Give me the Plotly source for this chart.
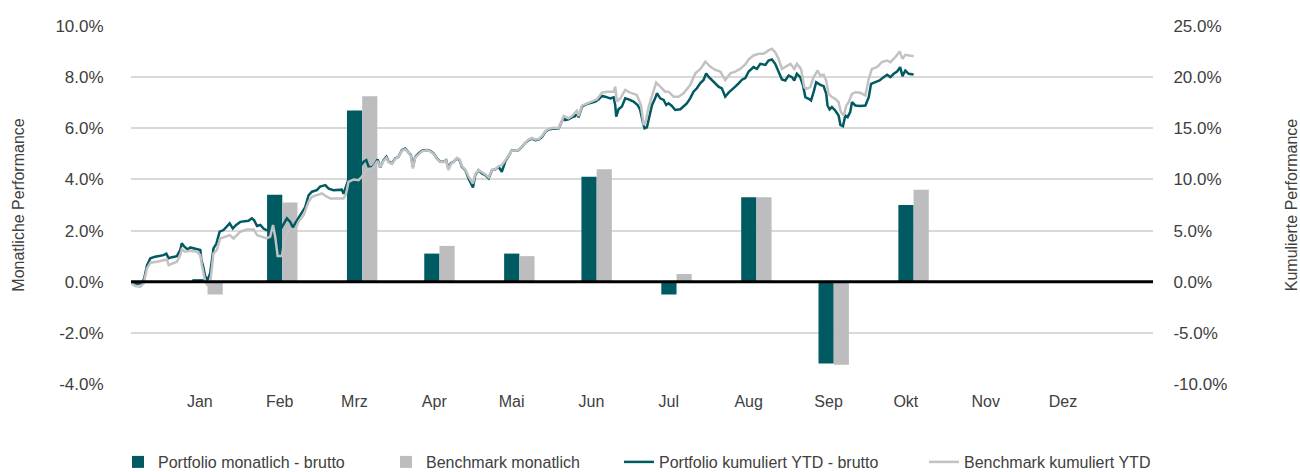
import pandas as pd
import plotly.graph_objects as go

# ---------------- data ----------------
month_labels = ["Jan", "Feb", "Mrz", "Apr", "Mai", "Jun", "Jul", "Aug", "Sep", "Okt", "Nov", "Dez"]
tick_dates = ["2024-01-28", "2024-02-28", "2024-03-28", "2024-04-28", "2024-05-28", "2024-06-28",
              "2024-07-28", "2024-08-28", "2024-09-28", "2024-10-28", "2024-11-28", "2024-12-28"]
left_ticks = [-4, -2, 0, 2, 4, 6, 8, 10]
right_ticks = [-10, -5, 0, 5, 10, 15, 20, 25]

bar_dates = ["2024-01-31", "2024-02-29", "2024-03-31", "2024-04-30", "2024-05-31",
             "2024-06-30", "2024-07-31", "2024-08-31", "2024-09-30", "2024-10-31"]
port_monthly = [0.1, 3.4, 6.7, 1.1, 1.1, 4.1, -0.5, 3.3, -3.2, 3.0]
bench_monthly = [-0.5, 3.1, 7.25, 1.4, 1.0, 4.4, 0.3, 3.3, -3.25, 3.6]

# cumulative YTD (days since 1 Jan 2024, value in %)
port_cum_day = [0.0, 0.6, 2.6, 4.5, 5.4, 6.5, 7.8, 9.7, 11.6, 12.9, 14.0, 14.9, 16.2, 18.1, 19.4, 20.0, 21.1,
                22.3, 23.3, 24.6, 25.9, 27.2, 27.6, 28.2, 29.1, 30.0, 31.0, 32.3, 33.4, 34.7, 36.2, 37.8, 38.6,
                39.8, 41.1, 42.7, 44.6, 45.9, 47.2, 48.1, 49.2, 50.5, 51.7, 52.8, 55.0, 57.0, 58.5, 59.5, 60.8,
                62.1, 63.1, 64.0, 65.3, 66.6, 67.9, 69.2, 70.5, 72.4, 73.7, 75.7, 77.0, 78.9, 80.9, 82.1, 82.8,
                84.1, 84.7, 87.0, 89.0, 90.6, 91.6, 92.5, 93.8, 95.1, 96.0, 97.0, 98.3, 99.4, 100.3, 101.6,
                102.8, 104.1, 105.4, 106.7, 108.0, 108.9, 109.7, 110.6, 111.9, 113.2, 115.1, 116.4, 117.7,
                119.0, 120.3, 121.6, 122.6, 123.5, 124.4, 125.5, 126.8, 127.8, 128.7, 130.0, 131.3, 133.0,
                133.9, 135.2, 136.5, 137.8, 139.1, 140.4, 141.7, 143.0, 144.2, 145.5, 146.8, 148.1, 149.4,
                150.7, 152.0, 153.3, 154.6, 155.9, 157.2, 158.5, 159.8, 161.1, 162.4, 164.3, 166.2, 167.5,
                168.2, 168.8, 170.1, 171.4, 172.7, 173.3, 174.0, 175.3, 177.2, 179.2, 180.5, 181.8, 183.1,
                184.3, 186.3, 187.6, 188.2, 188.6, 189.5, 190.8, 192.1, 193.4, 195.3, 196.9, 197.9, 199.0,
                199.6, 200.5, 201.4, 202.5, 203.7, 204.4, 205.7, 207.0, 208.0, 208.9, 210.2, 211.5, 213.5,
                214.7, 216.0, 217.3, 218.6, 219.9, 221.2, 222.5, 223.5, 224.4, 225.7, 227.0, 228.3, 229.6,
                230.9, 232.2, 233.5, 234.8, 236.1, 237.4, 238.7, 240.0, 241.9, 243.2, 244.5, 246.5, 247.7,
                249.0, 250.3, 251.6, 252.9, 254.2, 255.5, 256.8, 257.7, 258.7, 260.0, 261.1, 262.0, 263.3,
                264.2, 265.2, 266.2, 267.8, 269.1, 270.1, 270.6, 271.4, 272.3, 273.6, 274.9, 275.6, 276.6,
                277.5, 278.4, 279.4, 280.1, 281.4, 283.3, 285.3, 286.6, 287.5, 289.1, 290.8, 292.4, 293.7,
                295.0, 296.3, 297.6, 298.8, 299.7, 300.8, 302.1, 304.0]
port_cum = [-0.05, -0.1, -0.2, -0.15, 0.3, 1.6, 2.3, 2.45, 2.55, 2.6, 2.75, 2.3, 2.4, 2.5, 3.1, 3.75, 3.4,
            3.15, 3.35, 3.25, 3.15, 3.1, 2.1, 1.6, 0.5, 0.2, 0.8, 3.25, 3.7, 4.9, 5.05, 5.45, 5.7,
            5.2, 5.55, 5.85, 5.9, 5.95, 6.2, 6.0, 5.45, 5.55, 5.2, 5.05, 5.0, 4.6, 5.2, 5.65, 6.2,
            5.85, 5.3, 5.7, 6.2, 6.7, 7.3, 8.45, 8.8, 8.95, 9.3, 9.45, 9.1, 8.95, 8.95, 9.0, 8.6,
            9.6, 10.0, 10.8, 11.2, 11.73, 11.89, 11.24, 11.17, 11.56, 11.95, 11.17, 11.89, 12.21, 11.73, 11.56,
            12.05, 12.21, 12.87, 13.03, 12.7, 12.38, 11.24, 12.21, 12.54, 12.8, 12.87, 12.8, 12.54,
            12.05, 11.73, 11.73, 11.89, 11.07, 11.56, 11.73, 12.05, 11.89, 11.24, 10.91, 10.1, 9.22,
            10.42, 10.91, 10.59, 10.42, 10.1, 10.91, 10.98, 11.24, 10.75, 11.73, 12.28, 12.87, 12.8,
            12.87, 13.19, 13.58, 13.84, 14.0, 13.84, 13.9, 14.17, 14.66, 14.89, 14.98, 14.95, 15.65,
            16.07, 15.81, 15.88, 16.07, 16.2, 16.63, 16.07, 17.12, 17.38, 17.51, 17.61, 17.83, 18.16,
            18.09, 17.93, 18.03, 17.28, 16.14, 16.86, 17.12, 17.93, 17.83, 17.61, 17.28, 16.79, 15.49,
            15.0, 15.1, 16.14, 17.28, 17.93, 18.42, 17.93, 17.77, 17.28, 17.44, 17.18, 16.79, 16.86,
            17.18, 17.44, 17.93, 18.58, 18.91, 19.4, 19.72, 20.37, 20.05, 19.72, 19.4, 19.07, 18.91,
            18.09, 18.49, 18.75, 19.07, 19.4, 19.75, 19.9, 20.55, 20.98, 20.81, 21.3, 21.2, 21.63,
            21.73, 21.3, 20.49, 19.77, 19.67, 20.16, 20.0, 19.67, 20.33, 20.0, 19.19, 18.05, 17.88,
            17.72, 18.53, 19.51, 19.25, 19.12, 18.37, 17.23, 16.84, 17.07, 16.74, 16.25, 15.34, 15.21,
            16.25, 16.09, 16.58, 17.56, 17.23, 17.17, 17.23, 18.05, 19.35, 19.51, 19.67, 20.0, 20.23,
            20.0, 20.33, 20.55, 20.98, 20.1, 20.65, 20.33, 20.26]

bench_cum_day = [0.0, 0.6, 1.9, 3.9, 5.2, 6.5, 7.8, 10.3, 12.9, 14.2, 14.9, 16.2, 18.1, 19.4, 20.0, 21.3,
                 23.3, 25.9, 27.2, 27.8, 29.1, 30.0, 31.0, 32.3, 33.6, 34.9, 36.9, 38.6, 40.1, 42.7, 45.3,
                 47.9, 49.2, 51.1, 53.0, 54.3, 55.4, 56.3, 57.2, 58.9, 59.8, 62.1, 64.0, 65.3, 67.3, 69.2,
                 70.5, 72.4, 74.4, 76.3, 77.6, 80.2, 82.8, 83.8, 84.7, 86.7, 88.6, 89.9, 92.0, 94.0, 96.0,
                 97.0, 98.3, 99.4, 100.3, 101.6, 102.8, 104.1, 105.4, 106.7, 108.0, 108.9, 109.7, 110.6,
                 111.9, 113.2, 115.1, 116.4, 117.7, 119.0, 120.3, 121.6, 122.6, 123.5, 124.4, 125.5, 126.8,
                 127.8, 128.7, 130.0, 131.3, 133.0, 133.9, 135.2, 136.5, 137.8, 139.1, 140.4, 141.7, 143.0,
                 144.2, 145.5, 146.8, 148.1, 149.4, 150.7, 152.0, 153.3, 154.6, 155.9, 157.2, 158.5, 159.8,
                 161.1, 162.4, 164.3, 166.2, 167.5, 168.2, 170.1, 171.4, 173.3, 174.0, 175.3, 177.2, 179.2,
                 181.1, 183.1, 185.0, 187.6, 188.2, 188.9, 190.2, 192.1, 194.0, 196.6, 198.2, 199.2, 199.9,
                 201.2, 203.1, 204.1, 205.7, 207.6, 208.9, 210.9, 212.8, 214.7, 217.3, 219.3, 221.2, 223.2,
                 225.1, 227.0, 229.0, 230.9, 232.9, 234.8, 236.7, 238.7, 240.0, 241.9, 243.9, 245.8, 247.7,
                 249.0, 250.3, 251.6, 252.9, 254.2, 256.2, 257.7, 258.7, 260.3, 261.6, 262.6, 263.9, 265.2,
                 266.8, 267.8, 269.1, 270.1, 271.0, 272.3, 273.6, 274.9, 275.8, 276.9, 277.9, 278.8, 280.1,
                 281.4, 283.3, 285.3, 286.6, 287.8, 289.8, 291.7, 293.7, 295.0, 296.9, 298.6, 299.7, 300.8,
                 302.1, 304.0]
bench_cum = [-0.05, -0.16, -0.42, -0.49, -0.16, 1.3, 1.86, 1.95, 2.12, 2.18, 1.63, 1.79, 1.95, 2.61, 3.16, 2.93,
             3.03, 2.93, 2.61, 1.63, 0.0, -0.33, -0.16, 2.77, 3.09, 4.23, 4.4, 4.56, 4.23, 4.89, 5.11,
             5.11, 4.56, 4.4, 4.23, 4.4, 5.54, 4.33, 2.51, 2.51, 4.07, 5.21, 5.05, 5.86, 6.51, 7.82,
             8.31, 8.47, 8.63, 8.31, 8.14, 8.14, 8.14, 8.63, 9.77, 10.0, 9.93, 10.26, 11.0, 11.1, 11.8,
             11.2, 11.8, 12.1, 11.7, 11.5, 12.0, 12.2, 12.8, 12.95, 12.65, 12.3, 11.07, 12.15,
             12.5, 12.75, 12.85, 12.75, 12.5, 12.0, 11.7, 11.7, 11.85, 10.91, 11.5, 11.7, 12.1,
             11.95, 11.3, 10.95, 10.3, 9.6, 10.5, 10.95, 10.7, 10.5, 10.2, 10.95, 11.0, 11.3,
             11.4, 11.8, 12.3, 12.85, 12.8, 12.9, 13.2, 13.6, 13.9, 14.05, 13.9, 13.95, 14.25,
             14.7, 14.95, 15.05, 15.0, 15.72, 16.2, 15.98, 16.2, 16.73, 16.2, 17.21, 17.44, 17.61,
             17.83, 18.49, 18.58, 18.58, 19.07, 17.61, 17.93, 18.75, 18.49, 18.26, 17.28, 15.33, 15.49,
             17.12, 18.81, 19.46, 19.07, 18.58, 18.58, 18.09, 18.09, 18.42, 19.23, 20.37, 20.77, 21.51,
             21.03, 20.7, 20.54, 19.72, 20.37, 20.54, 20.8, 21.25, 21.75, 22.12, 22.28, 22.28, 22.61,
             22.77, 22.44, 21.79, 20.81, 20.98, 21.3, 20.81, 21.3, 20.81, 19.02, 18.86, 19.02, 20.0,
             20.65, 20.16, 20.23, 19.67, 18.37, 18.05, 17.88, 17.56, 16.58, 16.25, 17.23, 17.56, 18.37,
             18.53, 18.47, 18.21, 19.84, 20.81, 20.98, 21.47, 21.63, 21.47, 21.95, 22.51, 21.79, 22.18,
             22.12, 22.05]

# ---------------- styling ----------------
TEAL = "#005a62"
GRAY_BAR = "#bdbdbf"
GRAY_LINE = "#c2c2c4"
FONT = "Liberation Sans, Arial, sans-serif"
TXT = "#404040"

year_start = pd.Timestamp("2024-01-01")
port_x = year_start + pd.to_timedelta(port_cum_day, unit="D")
bench_x = year_start + pd.to_timedelta(bench_cum_day, unit="D")

bar_w = 5.9 * 86400000  # ms


def pct_label(v):
    return f"{v:.1f}%"


fig = go.Figure()
fig.add_trace(go.Bar(x=bar_dates, y=port_monthly, name="Portfolio monatlich - brutto",
                     marker=dict(color=TEAL, line=dict(width=0)), width=bar_w, offset=-bar_w,
                     legend="legend"))
fig.add_trace(go.Bar(x=bar_dates, y=bench_monthly, name="Benchmark monatlich",
                     marker=dict(color=GRAY_BAR, line=dict(width=0)), width=bar_w, offset=0,
                     legend="legend2"))
fig.add_trace(go.Scatter(x=port_x, y=port_cum, name="Portfolio kumuliert YTD - brutto", mode="lines",
                         line=dict(color=TEAL, width=2.5), yaxis="y2", legend="legend3"))
fig.add_trace(go.Scatter(x=bench_x, y=bench_cum, name="Benchmark kumuliert YTD", mode="lines",
                         line=dict(color=GRAY_LINE, width=2.5), yaxis="y2", legend="legend4"))

fig.add_shape(type="line", xref="paper", x0=0, x1=1, yref="y", y0=0, y1=0,
              line=dict(color="black", width=3), layer="above")

legend_common = dict(orientation="h", xanchor="left", yanchor="middle", xref="container",
                     yref="container", y=1 - 462 / 472, font=dict(size=16, color=TXT),
                     bgcolor="rgba(0,0,0,0)", itemwidth=30)
legend_text_x = [160, 428, 661, 966]

fig.update_layout(
    width=1300, height=472,
    margin=dict(l=131, r=147, t=26, b=88, autoexpand=False),
    paper_bgcolor="white", plot_bgcolor="white",
    barmode="overlay",
    font=dict(family=FONT, size=16, color=TXT),
    showlegend=True,
    legend=dict(legend_common, x=(legend_text_x[0] - 42) / 1300),
    legend2=dict(legend_common, x=(legend_text_x[1] - 42) / 1300),
    legend3=dict(legend_common, x=(legend_text_x[2] - 42) / 1300),
    legend4=dict(legend_common, x=(legend_text_x[3] - 42) / 1300),
    xaxis=dict(type="date", range=["2024-01-01 07:00", "2025-01-31 22:00"],
               tickvals=tick_dates, ticktext=month_labels, showgrid=False, zeroline=False,
               showline=False, ticks="outside", ticklen=3, tickcolor="rgba(0,0,0,0)",
               tickfont=dict(size=16, color=TXT)),
    yaxis=dict(range=[-4, 10], tickvals=left_ticks, ticktext=[pct_label(v) for v in left_ticks],
               showgrid=True, gridcolor="#d9d9d9", gridwidth=2, zeroline=False, showline=False,
               ticks="outside", ticklen=23, tickcolor="rgba(0,0,0,0)", tickfont=dict(size=17, color=TXT),
               title=dict(text="Monatliche Performance", font=dict(size=16, color=TXT), standoff=26)),
    yaxis2=dict(range=[-10, 25], tickvals=right_ticks, ticktext=[pct_label(v) for v in right_ticks],
                overlaying="y", side="right", showgrid=False, zeroline=False, showline=False,
                ticks="outside", ticklen=16, tickcolor="rgba(0,0,0,0)", tickfont=dict(size=17, color=TXT),
                title=dict(text="Kumulierte Performance", font=dict(size=16, color=TXT), standoff=59)),
)

fig.write_html("out.html", config={"displayModeBar": False},
               post_script="document.body.style.margin='0';")
